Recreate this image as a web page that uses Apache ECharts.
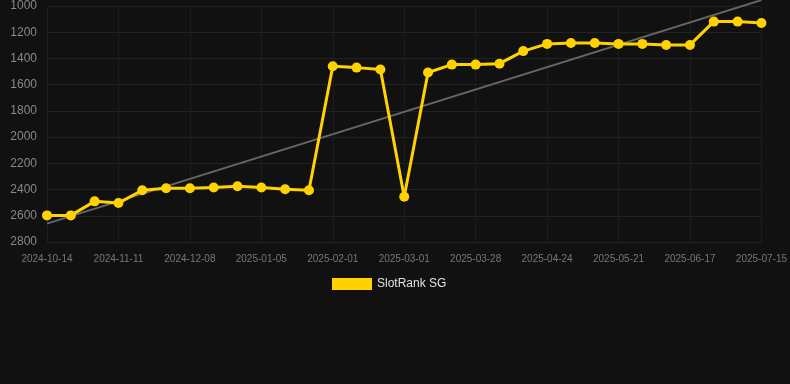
<!DOCTYPE html>
<html>
<head>
<meta charset="utf-8">
<script src="https://cdn.jsdelivr.net/npm/echarts@6/dist/echarts.min.js"></script>
<style>
  html, body { margin: 0; padding: 0; background: #111111; }
  #chart { width: 790px; height: 384px; }
</style>
</head>
<body>
<div id="chart"></div>
<script>
// dates on the x axis
var dates = ['2024-10-14', '2024-10-23', '2024-11-02', '2024-11-11', '2024-11-20', '2024-11-29',
  '2024-12-08', '2024-12-17', '2024-12-27', '2025-01-05', '2025-01-14', '2025-01-23',
  '2025-02-01', '2025-02-10', '2025-02-20', '2025-03-01', '2025-03-10', '2025-03-19',
  '2025-03-28', '2025-04-06', '2025-04-15', '2025-04-24', '2025-05-03', '2025-05-12',
  '2025-05-21', '2025-05-30', '2025-06-08', '2025-06-17', '2025-06-26', '2025-07-06',
  '2025-07-15'];

// rank values
var ranks = [2597, 2597, 2490, 2503, 2405, 2390, 2390, 2385, 2375, 2385, 2397, 2405,
  1460, 1470, 1485, 2455, 1507, 1447, 1447, 1440, 1344, 1289, 1282, 1282, 1289, 1289,
  1297, 1297, 1119, 1119, 1129];

// trend line end points
var trendStart = 2660;
var trendEnd = 955;

var chart = echarts.init(document.getElementById('chart'));

var option = {
  backgroundColor: '#111111',
  animation: false,
  grid: { left: 47, right: 28, top: 6, bottom: 142 },
  legend: {
    top: 273,
    left: 327,
    itemWidth: 40,
    itemHeight: 12,
    icon: 'rect',
    textStyle: { color: '#e0e0e0', fontSize: 12, fontFamily: 'Arial' },
    data: ['SlotRank SG']
  },
  xAxis: {
    type: 'category',
    data: dates,
    boundaryGap: false,
    axisLine: { show: false },
    axisTick: { show: false },
    axisLabel: { interval: 2, color: '#777', fontSize: 10, margin: 12, fontFamily: 'Arial' },
    splitLine: { show: true, interval: 2, lineStyle: { color: '#1c1c1c', width: 1 } }
  },
  yAxis: {
    type: 'value',
    inverse: true,
    min: 1000,
    max: 2800,
    interval: 200,
    axisLine: { show: false },
    axisTick: { show: false },
    axisLabel: {
      color: '#888', fontSize: 12, margin: 10, fontFamily: 'Arial',
      formatter: function (v) { return String(v); }
    },
    splitLine: { lineStyle: { color: '#222', width: 1 } }
  },
  series: [
    {
      name: 'trend',
      type: 'line',
      data: [[0, trendStart], [dates.length - 1, trendEnd]],
      symbol: 'none',
      clip: false,
      lineStyle: { color: '#666', width: 2 },
      z: 1
    },
    {
      name: 'SlotRank SG',
      type: 'line',
      data: ranks,
      symbol: 'circle',
      symbolSize: 10,
      itemStyle: { color: '#FFD200' },
      lineStyle: { color: '#FFD200', width: 3 },
      z: 2
    }
  ]
};

chart.setOption(option);
</script>
</body>
</html>
